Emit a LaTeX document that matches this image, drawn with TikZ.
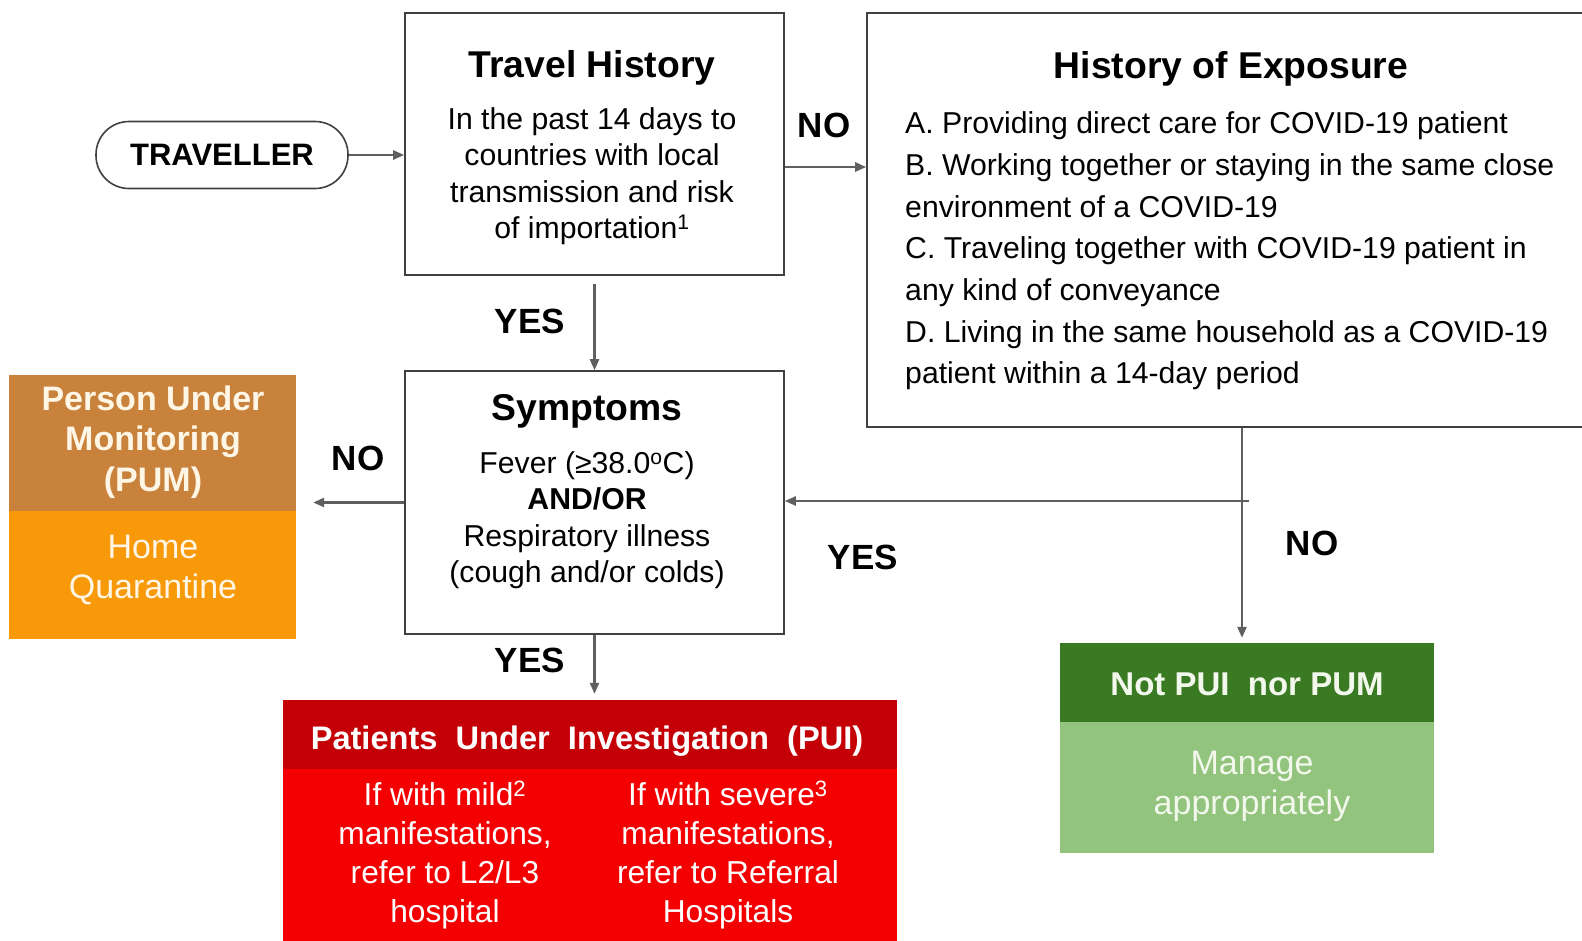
\documentclass[tikz,border=0pt]{standalone}
\usepackage{fontspec}
\setmainfont{Liberation Sans}
\usetikzlibrary{arrows.meta}
\definecolor{boxgray}{HTML}{404040}
\definecolor{arrgray}{HTML}{5F5F5F}
\definecolor{pumtopc}{HTML}{C8823C}
\definecolor{pumbotc}{HTML}{F8990A}
\definecolor{puitopc}{HTML}{C40006}
\definecolor{puibotc}{HTML}{F40000}
\definecolor{nottopc}{HTML}{3A7A22}
\definecolor{notbotc}{HTML}{93C47D}
\definecolor{creamtxt}{HTML}{FFF6E6}
\definecolor{greentxt}{HTML}{F2F8EC}
\tikzset{
  box/.style={draw=boxgray, line width=1.6pt, fill=white, inner sep=0pt},
  fillbox/.style={draw=none, inner sep=0pt},
  arr/.style={draw=arrgray, line width=2.4pt, -{Triangle[length=11pt,width=9pt]}},
  lbl/.style={font=\fontsize{35}{40}\selectfont\bfseries, inner sep=0pt},
  ttl/.style={font=\fontsize{37.3}{40}\selectfont\bfseries, inner sep=0pt},
  body/.style={font=\fontsize{30.2}{36.5}\selectfont, align=center, inner sep=0pt},
  wttl/.style={font=\fontsize{34}{40.5}\selectfont\bfseries, align=center, inner sep=0pt},
  wbody/.style={font=\fontsize{34}{40}\selectfont, align=center, inner sep=0pt},
}
\begin{document}
\begin{tikzpicture}[x=1pt,y=-1pt]
\useasboundingbox (0,0) rectangle (1582,940);
\clip (0,0) rectangle (1582,940);
\fill[white] (0,0) rectangle (1582,940);

% boxes
\node[box, rounded corners=33pt, minimum width=252pt, minimum height=67pt] (trav) at (222,155) {};
\node[font=\fontsize{31}{34}\selectfont\bfseries] (travtxt) at (222,155) {TRAVELLER};

\node[box, minimum width=379pt, minimum height=262pt] (travel) at (594.5,144) {};
\node[ttl] (travelttl) at (592,68) {Travel History};
\node[body] (travelbody) at (592,176) {In the past 14 days to\\countries with local\\transmission and risk\\of importation\textsuperscript{1}};

\node[box, minimum width=743pt, minimum height=414pt] (exposure) at (1238.5,220) {};
\node[ttl] (expttl) at (1231,69) {History of Exposure};
\node[font=\fontsize{30.2}{41.7}\selectfont, align=left, anchor=west, inner sep=0pt] (expbody) at (905,251)
 {A. Providing direct care for COVID-19 patient\\
  B. Working together or staying in the same close\\
  environment of a COVID-19\\
  C. Traveling together with COVID-19 patient in\\
  any kind of conveyance\\
  D. Living in the same household as a COVID-19\\
  patient within a 14-day period};

\node[box, minimum width=379pt, minimum height=263pt] (symptoms) at (594.5,502.5) {};
\node[ttl] (symttl) at (587,411) {Symptoms};
\node[body] (symbody) at (587,520) {Fever (≥38.0\textsuperscript{o}C)\\\textbf{AND/OR}\\Respiratory illness\\(cough and/or colds)};

\node[fillbox, fill=pumtopc, minimum width=287pt, minimum height=136pt] (pumtop) at (152.5,443) {};
\node[fillbox, fill=pumbotc, minimum width=287pt, minimum height=128pt] (pumbot) at (152.5,575) {};
\node[wttl, text=creamtxt] (pumttl) at (153,442) {Person Under\\Monitoring\\(PUM)};
\node[wbody, text=creamtxt] (pumbody) at (153,570) {Home\\Quarantine};

\node[fillbox, fill=puitopc, minimum width=614pt, minimum height=69pt] (puitop) at (590,734.5) {};
\node[fillbox, fill=puibotc, minimum width=614pt, minimum height=181pt] (puibot) at (590,859.5) {};
\node[font=\fontsize{32.6}{36}\selectfont\bfseries, text=white, inner sep=0pt] (puittl) at (587,741) {Patients\ \ Under\ \ Investigation\ \ (PUI)};
\node[font=\fontsize{31.7}{39}\selectfont, text=white, align=center, inner sep=0pt] (puileft) at (445,855) {If with mild\textsuperscript{2}\\manifestations,\\refer to L2/L3\\hospital};
\node[font=\fontsize{31.7}{39}\selectfont, text=white, align=center, inner sep=0pt] (puiright) at (728,855) {If with severe\textsuperscript{3}\\manifestations,\\refer to Referral\\Hospitals};

\node[fillbox, fill=nottopc, minimum width=374pt, minimum height=79pt] (nottop) at (1247,682.5) {};
\node[fillbox, fill=notbotc, minimum width=374pt, minimum height=131pt] (notbot) at (1247,787.5) {};
\node[font=\fontsize{33}{36}\selectfont\bfseries, text=greentxt, inner sep=0pt] (notttl) at (1247,684) {Not PUI\ \ nor PUM};
\node[wbody, text=greentxt] (notbody) at (1252,786) {Manage\\appropriately};

% connectors
\coordinate (noy) at (0,167);
\coordinate (jn) at (1242,501);
\draw[arr] (trav.east) -- (trav.east -| travel.west);
\draw[arr] (travel.east |- noy) -- (exposure.west |- noy);
\draw[arr, shorten <=8pt] (travel.south) -- (symptoms.north);
\draw[arr, shorten >=17pt] (symptoms.west) -- (symptoms.west -| pumtop.east);
\draw[arr, shorten >=5pt] (exposure.south -| jn) -- (nottop.north -| jn);
\draw[arr] ([xshift=7pt]jn) -- (jn -| symptoms.east);
\draw[arr, shorten >=6pt] (symptoms.south) -- (symptoms.south |- puitop.north);

% labels
\node[lbl] (lno1) at (824,125) {NO};
\node[lbl] (lyes1) at (530,321) {YES};
\node[lbl] (lno2) at (358,458) {NO};
\node[lbl] (lyes2) at (863,557) {YES};
\node[lbl] (lno3) at (1312,543) {NO};
\node[lbl] (lyes3) at (530,660) {YES};
\end{tikzpicture}
\end{document}
